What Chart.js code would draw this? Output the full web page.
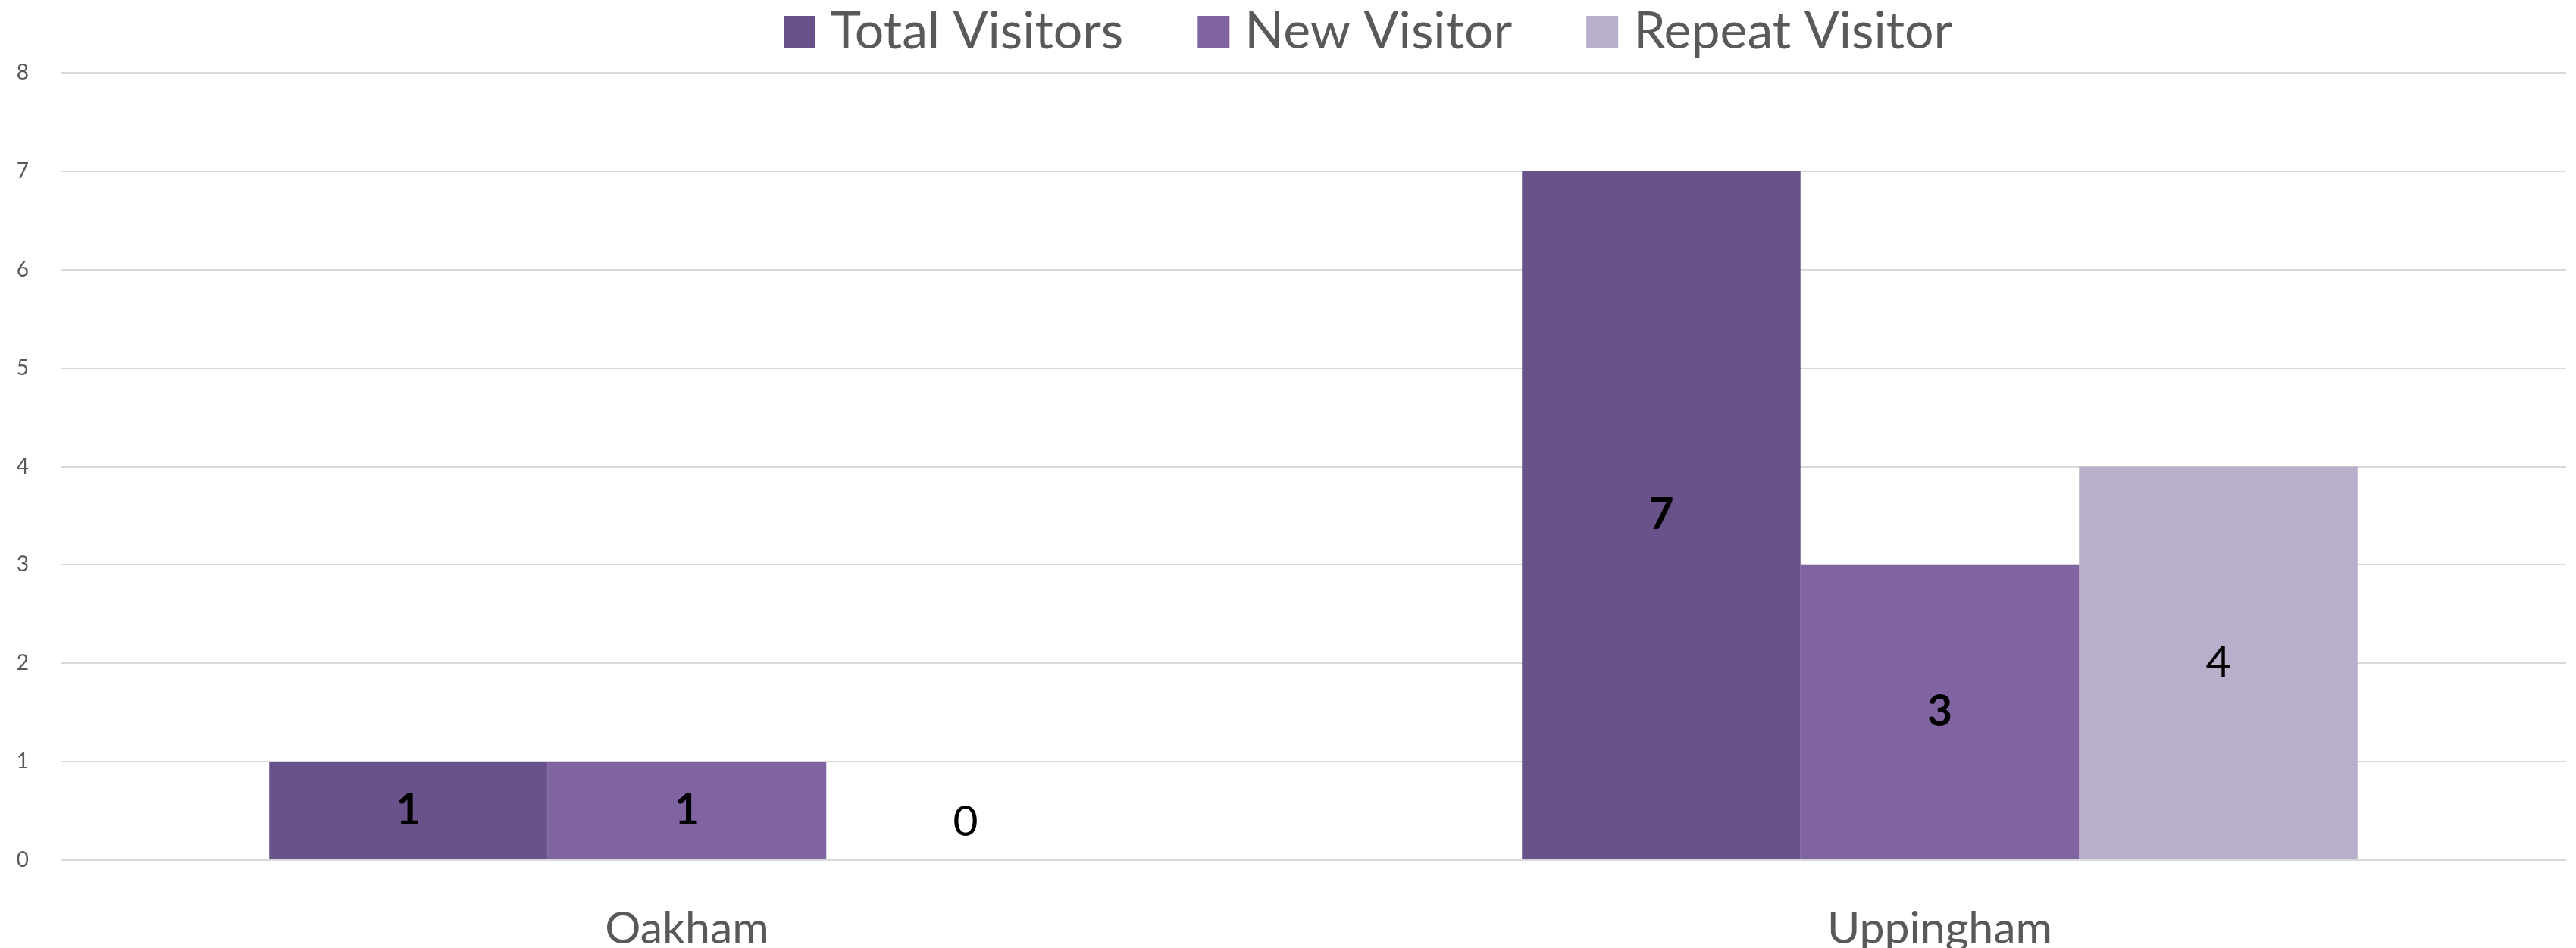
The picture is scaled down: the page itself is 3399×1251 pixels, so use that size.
<!DOCTYPE html>
<html>
<head>
<meta charset="utf-8">
<script src="https://cdn.jsdelivr.net/npm/chart.js@4"></script>
<style>
    body { margin: 0; background: #fff; }
    #wrap { width: 3399px; height: 1251px; }
</style>
</head>
<body>
<div id="wrap"><canvas id="visitorsChart" width="3399" height="1251"></canvas></div>
<script>
const categories = ['Oakham', 'Uppingham'];
const totalVisitors = [1, 7];
const newVisitors = [1, 3];
const repeatVisitors = [0, 4];
const yTicks = [0, 1, 2, 3, 4, 5, 6, 7, 8];

const FONT = 'Lato, "Liberation Sans", sans-serif';
const TEXT = '#595959';

// bar value labels, centred in each bar
const barLabels = {
    id: 'barLabels',
    afterDatasetsDraw(chart) {
        const ctx = chart.ctx;
        ctx.save();
        ctx.textAlign = 'center';
        ctx.textBaseline = 'middle';
        ctx.fillStyle = '#000';
        chart.data.datasets.forEach((ds, i) => {
            const meta = chart.getDatasetMeta(i);
            ctx.font = (ds.boldLabels ? 'bold ' : '') + '57px ' + FONT;
            meta.data.forEach((bar, j) => {
                const v = ds.data[j];
                let y = (bar.y + bar.base) / 2;
                if (v === 0) y = bar.base - 50;
                ctx.fillText(String(v), bar.x, y);
            });
        });
        ctx.restore();
    }
};

// legend drawn by hand so item spacing matches the original
const topLegend = {
    id: 'topLegend',
    afterDraw(chart) {
        const ctx = chart.ctx;
        ctx.save();
        ctx.font = '68px ' + FONT;
        ctx.textBaseline = 'middle';
        ctx.textAlign = 'left';
        const box = 42, gap = 20, spacing = 98;
        let x = 1034;
        const cy = 42;
        chart.data.datasets.forEach(ds => {
            ctx.fillStyle = ds.backgroundColor;
            ctx.fillRect(x, cy - box / 2, box, box);
            x += box + gap;
            ctx.fillStyle = TEXT;
            ctx.fillText(ds.label, x, cy);
            x += ctx.measureText(ds.label).width + spacing;
        });
        ctx.restore();
    }
};

new Chart(document.getElementById('visitorsChart').getContext('2d'), {
    type: 'bar',
    data: {
        labels: categories,
        datasets: [
            { label: 'Total Visitors', data: totalVisitors, backgroundColor: '#69518A', boldLabels: true },
            { label: 'New Visitor', data: newVisitors, backgroundColor: '#8064A2', boldLabels: true },
            { label: 'Repeat Visitor', data: repeatVisitors, backgroundColor: '#B9AFCA', boldLabels: false }
        ]
    },
    options: {
        responsive: false,
        animation: false,
        datasets: { bar: { categoryPercentage: 0.667, barPercentage: 1.0 } },
        layout: { padding: { top: 96, right: 13, left: 0, bottom: 0 } },
        plugins: {
            legend: { display: false },
            tooltip: { enabled: false }
        },
        scales: {
            x: {
                grid: { display: false, drawTicks: false },
                border: { display: false },
                ticks: { color: TEXT, font: { family: FONT, size: 59 }, padding: 56 },
                afterFit(scale) { scale.height = 116; }
            },
            y: {
                min: 0,
                max: 8,
                afterBuildTicks(scale) { scale.ticks = yTicks.map(v => ({ value: v })); },
                grid: { color: '#D9D9D9', lineWidth: 2, drawTicks: false },
                border: { display: false },
                ticks: { color: TEXT, font: { family: FONT, size: 28 }, padding: 42 },
                afterFit(scale) { scale.width = 80; }
            }
        }
    },
    plugins: [barLabels, topLegend]
});
</script>
</body>
</html>
